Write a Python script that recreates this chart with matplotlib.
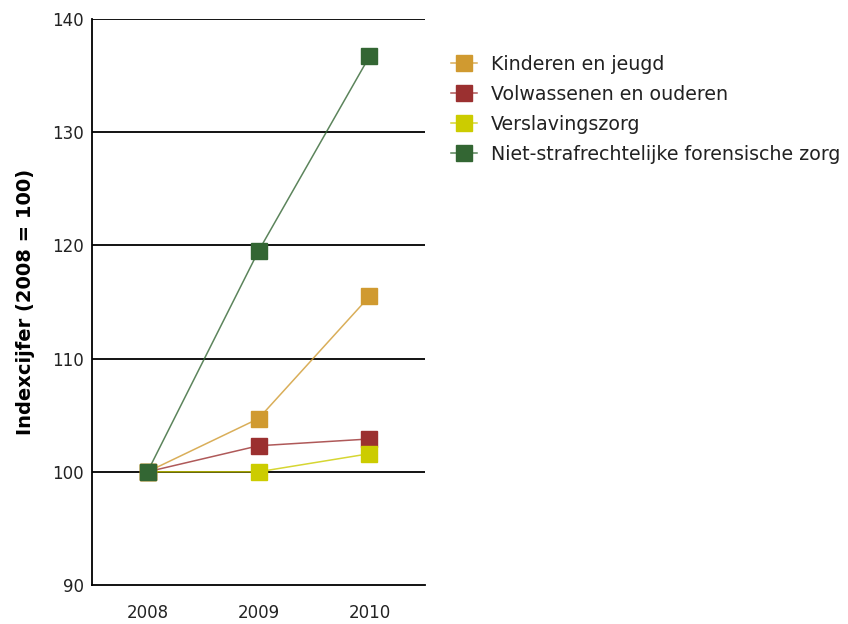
import matplotlib
matplotlib.use("Agg")
import matplotlib.pyplot as plt
from matplotlib.colors import to_rgba

years = ["2008", "2009", "2010"]
series_names = ["Kinderen en jeugd", "Volwassenen en ouderen", "Verslavingszorg",
                "Niet-strafrechtelijke forensische zorg"]
kinderen = [100, 104.7, 115.5]
volwassenen = [100, 102.3, 102.9]
verslaving = [100, 100.0, 101.6]
niet_straf = [100, 119.5, 136.7]
colors = ["#D09A30", "#9B3030", "#CCCC00", "#336633"]
yticks = [90, 100, 110, 120, 130, 140]

plt.rcParams['font.family'] = ['DejaVu Sans']
fig = plt.figure(figsize=(8.48, 6.24), dpi=100)
ax = fig.add_axes([92/848, 1-585/624, (425-92)/848, (585-19)/624])

x = list(range(len(years)))
for name, vals, c in zip(series_names, [kinderen, volwassenen, verslaving, niet_straf], colors):
    ax.plot(x, vals, color=to_rgba(c, 0.8), lw=1.1, marker='s', markersize=11.5,
            markerfacecolor=c, markeredgecolor=c, label=name, zorder=3)

for y in yticks[1:]:
    ax.axhline(y, color='black', lw=1.3, zorder=1)

ax.set_xlim(-0.5, 2.5)
ax.set_ylim(90, 140)
ax.set_xticks(x)
ax.set_xticklabels(years)
ax.set_yticks(yticks)
ax.tick_params(length=0, labelsize=12, colors='#222222')
ax.tick_params(axis='y', pad=6)
ax.tick_params(axis='x', pad=14)
for s in ['top', 'right']:
    ax.spines[s].set_visible(False)
ax.spines['left'].set_linewidth(1.3)
ax.spines['bottom'].set_linewidth(1.3)
ax.set_ylabel("Indexcijfer (2008 = 100)", fontsize=14, fontweight='bold', labelpad=12)

leg = ax.legend(loc='upper left', bbox_to_anchor=(451/848, 1-55/624), bbox_transform=fig.transFigure,
                frameon=False, fontsize=13.7, handlelength=1.35, handletextpad=0.75,
                labelspacing=0.58, borderpad=0, borderaxespad=0)
for t in leg.get_texts():
    t.set_color('#222222')

fig.savefig("out.png", dpi=100)
